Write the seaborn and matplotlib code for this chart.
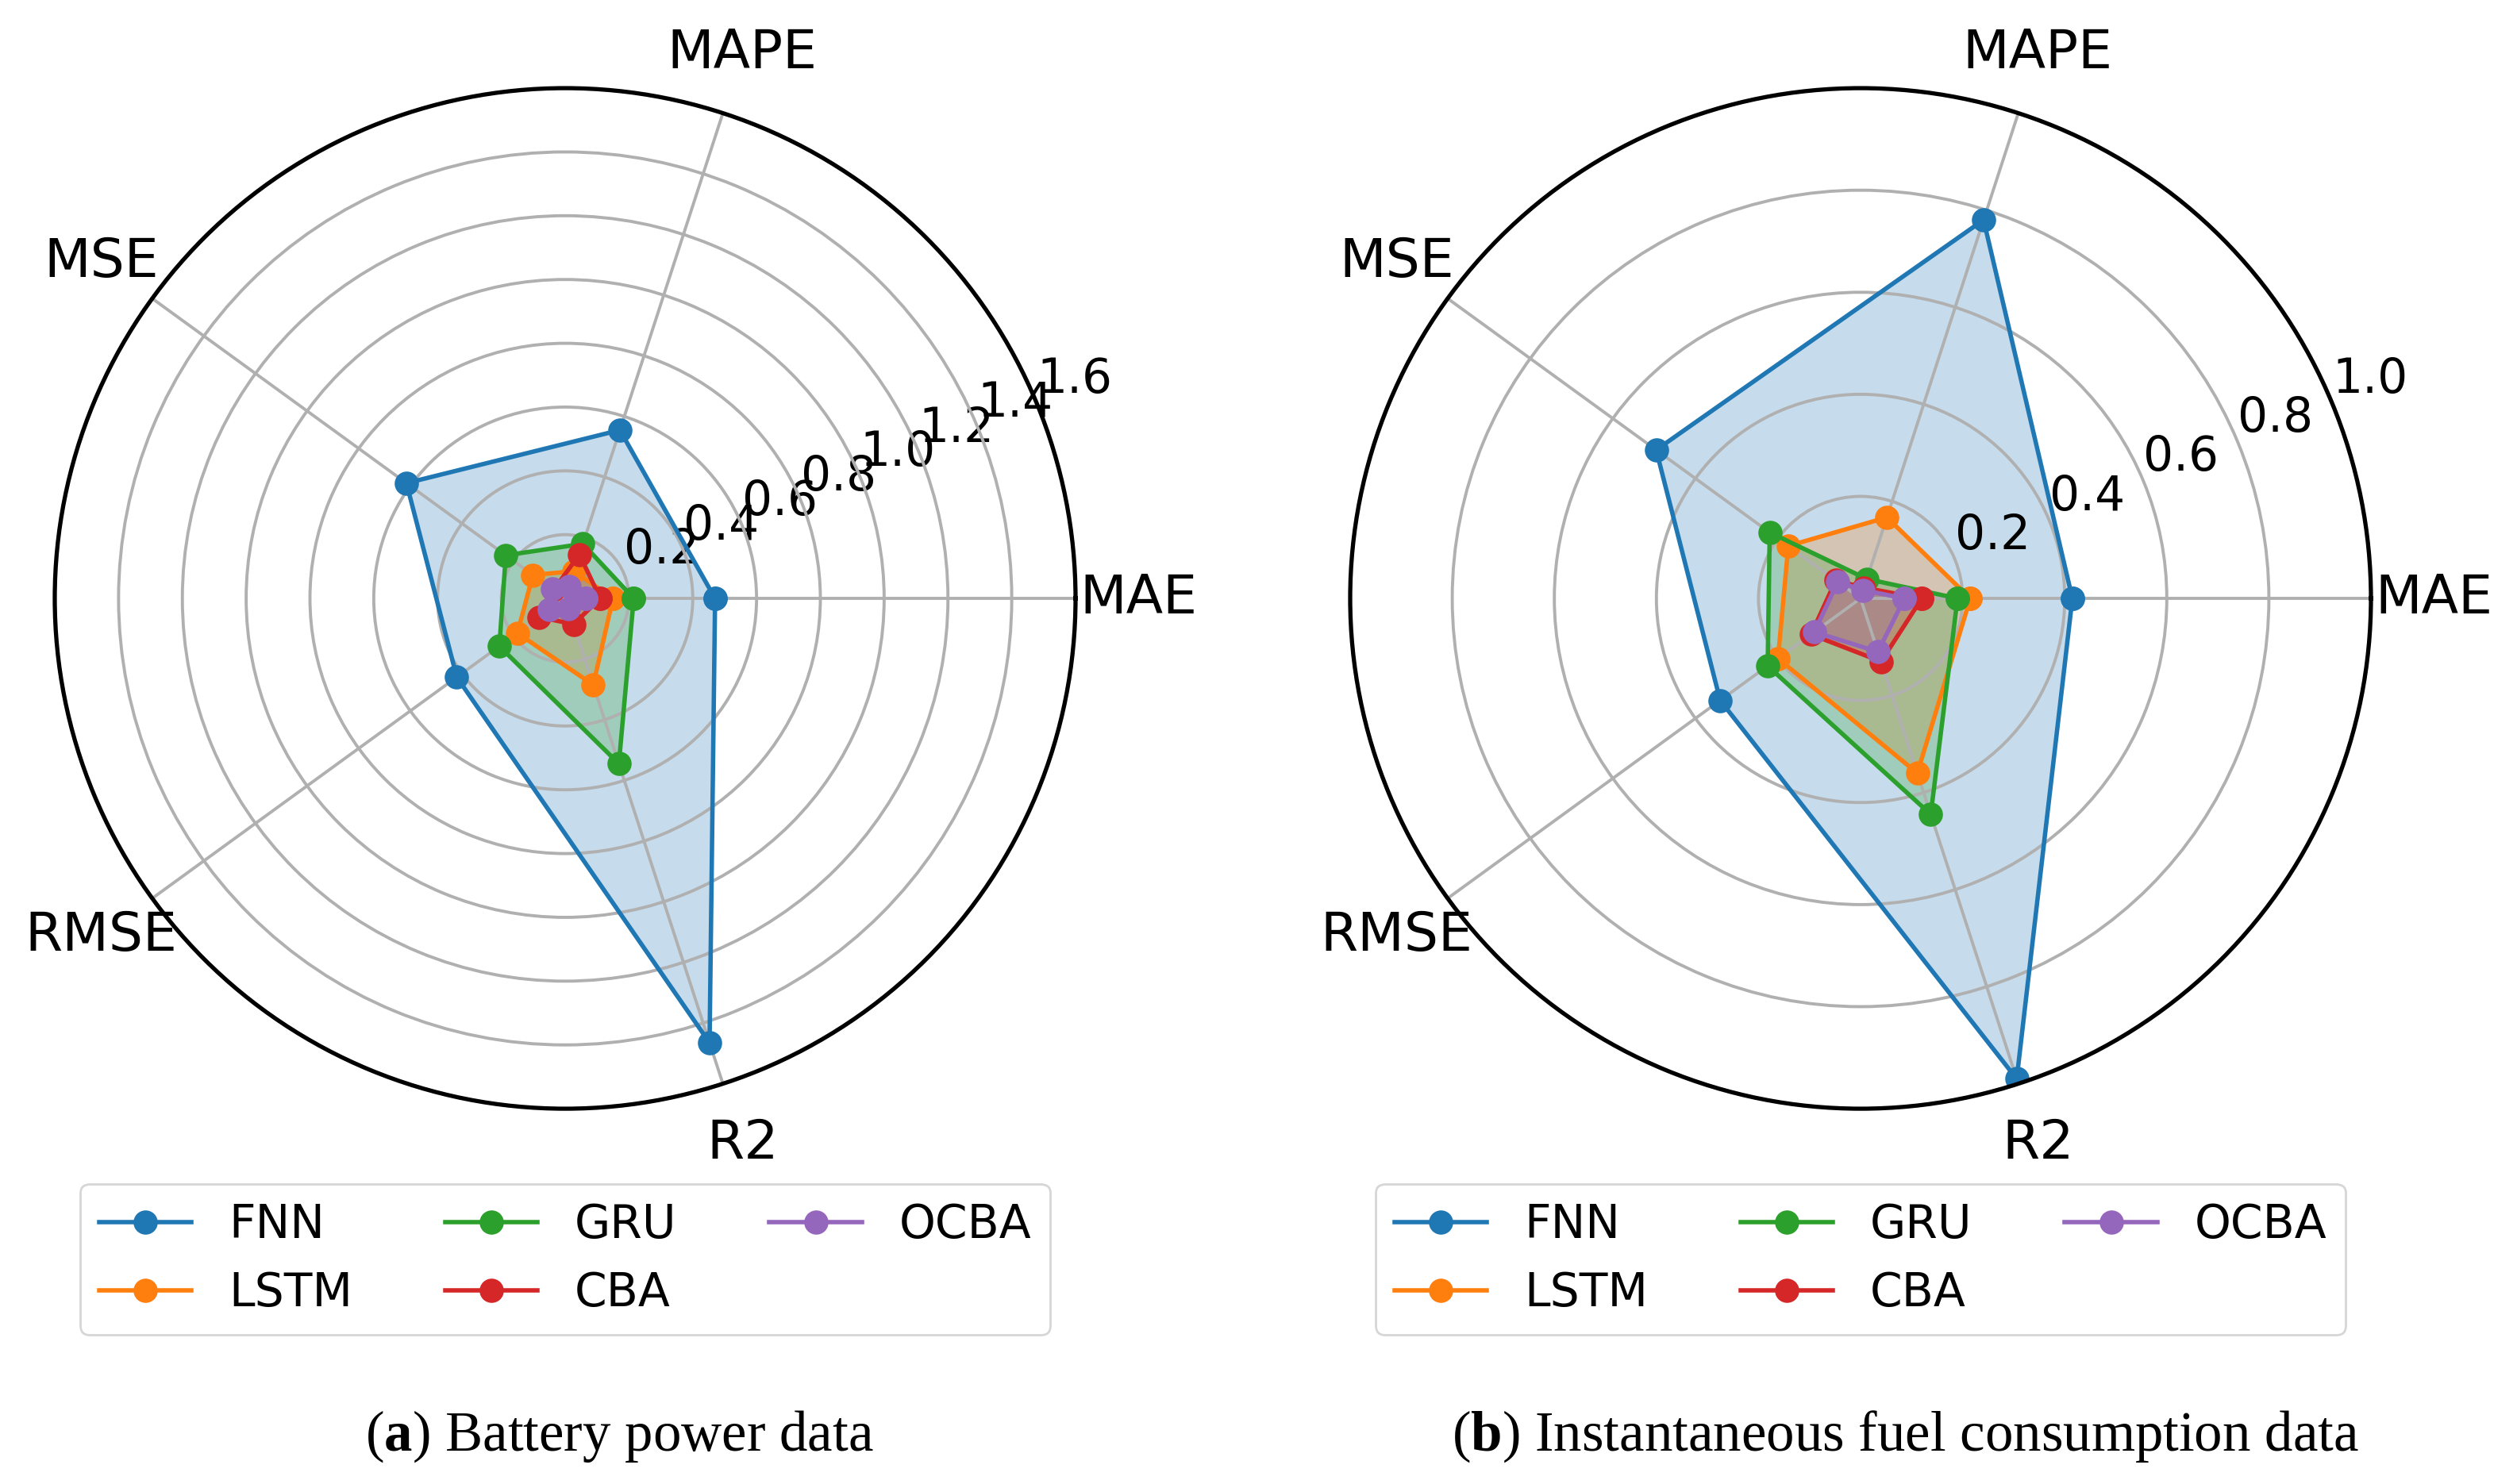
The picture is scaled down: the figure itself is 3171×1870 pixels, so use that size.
import numpy as np
import matplotlib
matplotlib.use("Agg")
import matplotlib.pyplot as plt
import seaborn as sns

# Metrics on the spokes and models in the legend
metrics = ["MAE", "MAPE", "MSE", "RMSE", "R2"]
models = ["FNN", "LSTM", "GRU", "CBA", "OCBA"]

# (a) Battery power data, one list per model, in metric order
battery_fnn = [0.47, 0.555, 0.615, 0.42, 1.465]
battery_lstm = [0.15, 0.09, 0.125, 0.185, 0.285]
battery_gru = [0.215, 0.18, 0.23, 0.255, 0.545]
battery_cba = [0.11, 0.145, 0.045, 0.10, 0.085]
battery_ocba = [0.065, 0.04, 0.05, 0.06, 0.035]

# (b) Instantaneous fuel consumption data
fuel_fnn = [0.415, 0.78, 0.495, 0.34, 0.99]
fuel_lstm = [0.215, 0.167, 0.175, 0.20, 0.36]
fuel_gru = [0.19, 0.04, 0.22, 0.225, 0.445]
fuel_cba = [0.12, 0.022, 0.06, 0.12, 0.13]
fuel_ocba = [0.086, 0.017, 0.055, 0.112, 0.11]

battery = [battery_fnn, battery_lstm, battery_gru, battery_cba, battery_ocba]
fuel = [fuel_fnn, fuel_lstm, fuel_gru, fuel_cba, fuel_ocba]

colours = sns.color_palette("tab10", len(models))
plt.rcParams["font.family"] = ["DejaVu Sans"]
plt.rcParams["mathtext.fontset"] = "custom"
plt.rcParams["mathtext.rm"] = "Liberation Serif"
plt.rcParams["mathtext.bf"] = "Liberation Serif:bold"

angles = np.linspace(0, 2 * np.pi, len(metrics), endpoint=False)
theta = np.append(angles, angles[0])


def radar(ax, data, rmax):
    for model, vals, c in zip(models, data, colours):
        r = np.append(vals, vals[0])
        sns.lineplot(x=theta, y=r, ax=ax, color=c, marker="o", sort=False,
                     estimator=None, label=model, linewidth=2.0,
                     markersize=11, markeredgewidth=0)
        ax.fill(theta, r, color=c, alpha=0.25, linewidth=0)
    ax.set_xlabel("")
    ax.set_ylabel("")
    ax.set_xticks(angles)
    ax.set_xticklabels(metrics, fontsize=24.5)
    ax.set_ylim(0, rmax)
    ticks = np.round(np.arange(0.2, rmax + 0.01, 0.2), 1)
    ax.set_yticks(ticks)
    ax.set_yticklabels([f"{t:.1f}" for t in ticks], fontsize=21.5)
    ax.grid(True, color="#b0b0b0", linewidth=1.4)
    ax.spines["polar"].set_linewidth(1.9)
    ax.tick_params(axis="x", pad=18)
    ax.legend(loc="upper center", bbox_to_anchor=(0.5, -0.051), ncol=3,
              fontsize=21, frameon=True)


fig = plt.figure(figsize=(15.855, 9.35), dpi=200)
w = 1286 / 3171
h = 1286 / 1870
ax1 = fig.add_axes([69 / 3171, 0.2529, w, h], projection="polar")
ax2 = fig.add_axes([1701 / 3171, 0.2529, w, h], projection="polar")

radar(ax1, battery, 1.6)
radar(ax2, fuel, 1.0)

cap = dict(fontsize=25.5, family="Liberation Serif", ha="center", va="center")
fig.text(780 / 3171, 1 - 1810 / 1870, r"($\mathbf{a}$) Battery power data", **cap)
fig.text(2400 / 3171, 1 - 1810 / 1870,
         r"($\mathbf{b}$) Instantaneous fuel consumption data", **cap)

fig.savefig("out.png", dpi=200)
